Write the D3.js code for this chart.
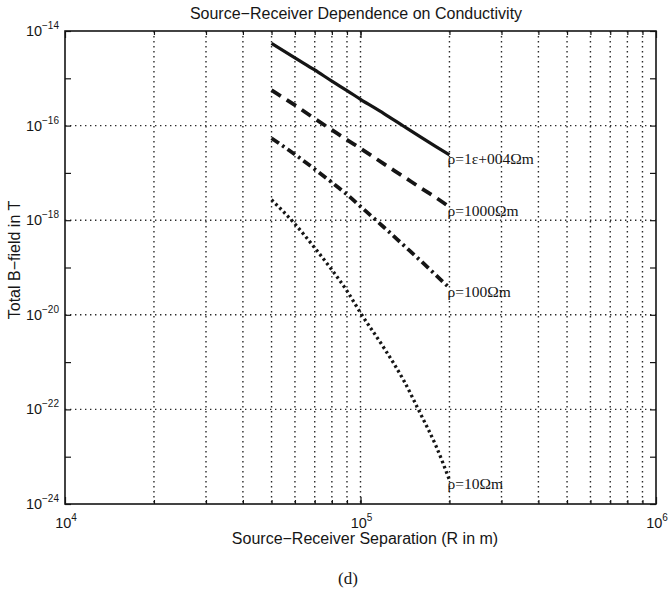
<!DOCTYPE html>
<html>
<head>
<meta charset="utf-8">
<script src="https://cdn.jsdelivr.net/npm/d3@7"></script>
<style>
  html, body { margin: 0; padding: 0; background: #fff; }
  svg { display: block; }
  .sans { font-family: "Liberation Sans", Arial, Helvetica, sans-serif; fill: #161616; }
  .serif { font-family: "Liberation Serif", "Times New Roman", serif; fill: #161616; }
</style>
</head>
<body>
<svg id="chart" width="672" height="593"></svg>
<script>
// Source-receiver separations (m) at which the field is sampled
const separation = [5e4, 6e4, 7e4, 8e4, 9e4, 1e5, 1.2e5, 1.4e5, 1.6e5, 1.8e5, 2e5];

// Total B-field (T) for each half-space resistivity
const field1e4 = [5.5e-15, 2.7e-15, 1.5e-15, 8.7e-16, 5.5e-16, 3.6e-16, 1.8e-16, 9.7e-17, 5.7e-17, 3.6e-17, 2.4e-17];
const field1000 = [5.6e-16, 2.7e-16, 1.4e-16, 8.1e-17, 5.0e-17, 3.3e-17, 1.55e-17, 8.3e-18, 4.8e-18, 3.0e-18, 1.9e-18];
const field100 = [5.4e-17, 2.45e-17, 1.2e-17, 6.3e-18, 3.5e-18, 1.95e-18, 7.1e-19, 2.95e-19, 1.38e-19, 6.9e-20, 3.7e-20];
const field10 = [2.7e-18, 8.3e-19, 2.6e-19, 8.9e-20, 3.2e-20, 1.1e-20, 2.0e-21, 4.1e-22, 7.8e-23, 1.7e-23, 3.2e-24];

const seriesLabels = ["ρ=1ε+004Ωm", "ρ=1000Ωm", "ρ=100Ωm", "ρ=10Ωm"];

// Axis limits and labelled ticks
const xDomain = [1e4, 1e6];
const yDomain = [1e-24, 1e-14];
const xTickExponents = [4, 5, 6];
const yTickExponents = [-14, -16, -18, -20, -22, -24];

const titleText = "Source−Receiver Dependence on Conductivity";
const xTitle = "Source−Receiver Separation (R in m)";
const yTitle = "Total B−field in T";
const panelTag = "(d)";

const svg = d3.select("#chart");
const plot = { left: 65, right: 656, top: 31, bottom: 504 };

const x = d3.scaleLog().domain(xDomain).range([plot.left, plot.right]);
const y = d3.scaleLog().domain(yDomain).range([plot.bottom, plot.top]);

const ink = "#151515";

// Grid: every x decade subdivision, every other y decade
const xGridVals = [];
for (let e = 4; e < 6; e++) {
  for (let m = 1; m <= 9; m++) {
    const v = m * Math.pow(10, e);
    if (v > xDomain[0] && v < xDomain[1]) xGridVals.push(v);
  }
}
const yGridVals = yTickExponents.map(e => Math.pow(10, e)).filter(v => v > yDomain[0] && v < yDomain[1]);

const grid = svg.append("g").attr("stroke", "#2a2a2a").attr("stroke-width", 1.4)
  .attr("stroke-dasharray", "1.4 3.6").attr("fill", "none");
grid.selectAll("line.vx").data(xGridVals).join("line")
  .attr("x1", d => x(d)).attr("x2", d => x(d))
  .attr("y1", plot.top).attr("y2", plot.bottom);
grid.selectAll("line.hy").data(yGridVals).join("line")
  .attr("x1", plot.left).attr("x2", plot.right)
  .attr("y1", d => y(d)).attr("y2", d => y(d));

// Inward ticks on all four sides
const xMajor = xTickExponents.map(e => Math.pow(10, e));
const yAllDecades = d3.range(-24, -13).map(e => Math.pow(10, e));
const tickAxes = svg.append("g");
function addAxis(axisGen, transform) {
  const g = tickAxes.append("g").attr("transform", transform).call(axisGen);
  g.select(".domain").remove();
  g.selectAll("text").remove();
  g.selectAll("line").attr("stroke", ink).attr("stroke-width", 1.2);
  return g;
}
addAxis(d3.axisBottom(x).tickValues(xGridVals).tickSize(-4), `translate(0,${plot.bottom})`);
addAxis(d3.axisTop(x).tickValues(xGridVals).tickSize(-4), `translate(0,${plot.top})`);
addAxis(d3.axisBottom(x).tickValues(xMajor).tickSize(-7), `translate(0,${plot.bottom})`);
addAxis(d3.axisTop(x).tickValues(xMajor).tickSize(-7), `translate(0,${plot.top})`);
addAxis(d3.axisLeft(y).tickValues(yAllDecades).tickSize(-6), `translate(${plot.left},0)`);
addAxis(d3.axisRight(y).tickValues(yAllDecades).tickSize(-6), `translate(${plot.right},0)`);

// Frame
svg.append("rect")
  .attr("x", plot.left).attr("y", plot.top)
  .attr("width", plot.right - plot.left).attr("height", plot.bottom - plot.top)
  .attr("fill", "none").attr("stroke", ink).attr("stroke-width", 1.6);

// Tick labels as powers of ten
function powerLabel(sel, exp) {
  sel.append("tspan").text("10");
  sel.append("tspan").attr("dy", -7).attr("font-size", 10).text(exp < 0 ? "−" + Math.abs(exp) : String(exp));
}
svg.append("g").selectAll("text").data(yTickExponents).join("text")
  .attr("class", "sans").attr("font-size", 14.5)
  .attr("x", plot.left - 6).attr("y", d => y(Math.pow(10, d)) + 5)
  .attr("text-anchor", "end")
  .each(function (d) { powerLabel(d3.select(this), d); });
svg.append("g").selectAll("text").data(xTickExponents).join("text")
  .attr("class", "sans").attr("font-size", 14.5)
  .attr("x", d => x(Math.pow(10, d)) + 1).attr("y", plot.bottom + 24)
  .attr("text-anchor", "middle")
  .each(function (d) { powerLabel(d3.select(this), d); });

// Curves
const series = [
  { values: field1e4, width: 3.2, dash: null },
  { values: field1000, width: 3.8, dash: "11 7" },
  { values: field100, width: 3.8, dash: "9 4 2.5 4" },
  { values: field10, width: 3.3, dash: "2.6 3" }
];
const line = d3.line()
  .x(d => x(d[0]))
  .y(d => y(d[1]))
  .curve(d3.curveMonotoneX);

const curves = svg.append("g").attr("fill", "none").attr("stroke", ink);
series.forEach((s, i) => {
  const pts = separation.map((r, k) => [r, s.values[k]]);
  curves.append("path")
    .attr("d", line(pts))
    .attr("stroke-width", s.width)
    .attr("stroke-dasharray", s.dash);
  const last = pts[pts.length - 1];
  svg.append("text").attr("class", "serif").attr("font-size", 15.5)
    .attr("x", x(last[0]) - 2).attr("y", y(last[1]) + 9)
    .text(seriesLabels[i]);
});

// Titles
svg.append("text").attr("class", "sans").attr("font-size", 16)
  .attr("x", 356).attr("y", 19).attr("text-anchor", "middle").text(titleText);
svg.append("text").attr("class", "sans").attr("font-size", 16)
  .attr("x", 365).attr("y", 544).attr("text-anchor", "middle").text(xTitle);
svg.append("text").attr("class", "sans").attr("font-size", 16)
  .attr("transform", "translate(20,260) rotate(-90)")
  .attr("text-anchor", "middle").text(yTitle);
svg.append("text").attr("class", "serif").attr("font-size", 17)
  .attr("x", 348).attr("y", 584).attr("text-anchor", "middle").text(panelTag);
</script>
</body>
</html>
